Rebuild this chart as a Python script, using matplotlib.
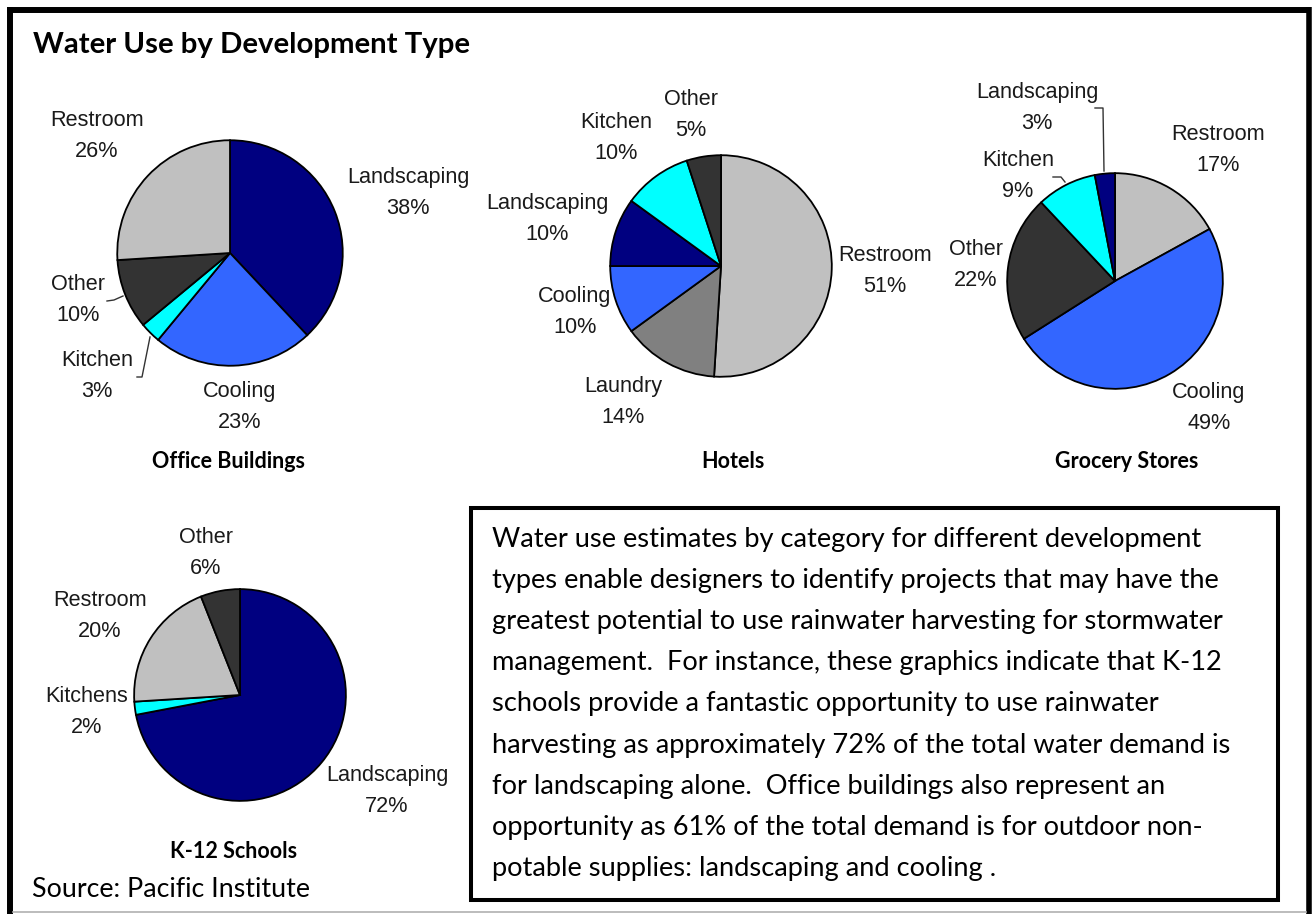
import matplotlib
matplotlib.use("Agg")
import matplotlib.pyplot as plt
from matplotlib.patches import Rectangle

# ---------------- data ----------------
title = "Water Use by Development Type"
source_note = "Source: Pacific Institute"

office_labels = ["Landscaping", "Cooling", "Kitchen", "Other", "Restroom"]
office_values = [38, 23, 3, 10, 26]

hotel_labels = ["Restroom", "Laundry", "Cooling", "Landscaping", "Kitchen", "Other"]
hotel_values = [51, 14, 10, 10, 10, 5]

grocery_labels = ["Restroom", "Cooling", "Other", "Kitchen", "Landscaping"]
grocery_values = [17, 49, 22, 9, 3]

school_labels = ["Landscaping", "Kitchens", "Restroom", "Other"]
school_values = [72, 2, 20, 6]

chart_names = ["Office Buildings", "Hotels", "Grocery Stores", "K-12 Schools"]

body_lines = [
    "Water use estimates by category for different development",
    "types enable designers to identify projects that may have the",
    "greatest potential to use rainwater harvesting for stormwater",
    "management.  For instance, these graphics indicate that K-12",
    "schools provide a fantastic opportunity to use rainwater",
    "harvesting as approximately 72% of the total water demand is",
    "for landscaping alone.  Office buildings also represent an",
    "opportunity as 61% of the total demand is for outdoor non-",
    "potable supplies: landscaping and cooling .",
]

# ---------------- styles ----------------
cat_colors = {
    "Landscaping": "#000080",
    "Cooling": "#3366FF",
    "Kitchen": "#00FFFF",
    "Kitchens": "#00FFFF",
    "Other": "#333333",
    "Restroom": "#C0C0C0",
    "Laundry": "#808080",
}

W, H = 1314, 914
fig = plt.figure(figsize=(W / 100, H / 100), dpi=100)
fig.patch.set_facecolor("white")

ov = fig.add_axes([0, 0, 1, 1])
ov.set_xlim(0, W)
ov.set_ylim(H, 0)
ov.axis("off")

LBL_FONT = ["Liberation Sans", "DejaVu Sans"]
CAL_FONT = ["Lato", "DejaVu Sans"]
LBL_COLOR = "#1a1a1a"
LBL_DY = 2  # small vertical nudge of label blocks

# layout per chart: center (px), radius (px), label block centers (px), leader lines
charts = [
    dict(labels=office_labels, values=office_values, name=chart_names[0],
         center=(230, 253), r=115, name_pos=(229, 468),
         label_pos=[(408, 191), (240, 405), (97, 374), (78, 298), (97, 134)],
         leaders=[[(107, 301), (114, 300), (123, 296)],
                  [(137, 377), (142, 377), (150, 337)]]),
    dict(labels=hotel_labels, values=hotel_values, name=chart_names[1],
         center=(721, 266), r=113, name_pos=(733, 468),
         label_pos=[(885, 269), (623, 400), (575, 310), (547, 217), (616, 136), (691, 113)],
         leaders=[]),
    dict(labels=grocery_labels, values=grocery_values, name=chart_names[2],
         center=(1115, 281), r=110, name_pos=(1127, 468),
         label_pos=[(1218, 148), (1209, 406), (976, 263), (1018, 174), (1037, 106)],
         leaders=[[(1095, 108), (1103, 108), (1104, 171)],
                  [(1053, 177), (1061, 177), (1065, 182)]]),
    dict(labels=school_labels, values=school_values, name=chart_names[3],
         center=(240, 695), r=108, name_pos=(234, 858),
         label_pos=[(387, 789), (87, 710), (100, 614), (206, 551)],
         leaders=[]),
]

for ch in charts:
    cx, cy = ch["center"]
    r = ch["r"]
    ax = fig.add_axes([(cx - r) / W, 1 - (cy + r) / H, 2 * r / W, 2 * r / H])
    ax.pie(ch["values"], colors=[cat_colors[l] for l in ch["labels"]],
           startangle=90, counterclock=False, radius=1.0,
           wedgeprops=dict(edgecolor="black", linewidth=1.3))
    ax.set_xlim(-1.02, 1.02)
    ax.set_ylim(-1.02, 1.02)
    ax.set_aspect("equal")
    ax.axis("off")
    for lab, val, (lx, ly) in zip(ch["labels"], ch["values"], ch["label_pos"]):
        ov.text(lx, ly + LBL_DY, f"{lab}\n{val}%", ha="center", va="center",
                fontsize=15.6, family=LBL_FONT, color=LBL_COLOR, linespacing=1.58)
    for pts in ch["leaders"]:
        xs, ys = zip(*pts)
        ov.plot(xs, ys, color="#333333", lw=1.0)
    nx, ny = ch["name_pos"]
    ov.text(nx, ny, ch["name"], ha="center", va="baseline", fontsize=15.5,
            fontweight="bold", family=CAL_FONT, color="black")

# title and source
ov.text(33, 53, title, ha="left", va="baseline", fontsize=21.2,
        fontweight="bold", family=CAL_FONT, color="black")
ov.text(32, 897, source_note, ha="left", va="baseline", fontsize=19.3,
        family=CAL_FONT, color="black")

# text box
ov.add_patch(Rectangle((471, 508), 1278 - 471, 899.5 - 508, fill=False,
                       edgecolor="black", lw=2.9))
for i, line in enumerate(body_lines):
    ov.text(492, 547 + 41.1 * i, line, ha="left", va="baseline", fontsize=19.6,
            family=CAL_FONT, color="black")

# outer frame
ov.plot([10, 10], [7, 914], color="black", lw=4.3, solid_capstyle="butt")
ov.plot([7, 1311], [10, 10], color="black", lw=4.3, solid_capstyle="butt")
ov.plot([1308.5, 1308.5], [7, 914], color="black", lw=4.0, solid_capstyle="butt")
ov.plot([13, 1306], [911.5, 911.5], color="#b0b0b0", lw=1.2)

fig.savefig("out.png", dpi=100, facecolor="white")
